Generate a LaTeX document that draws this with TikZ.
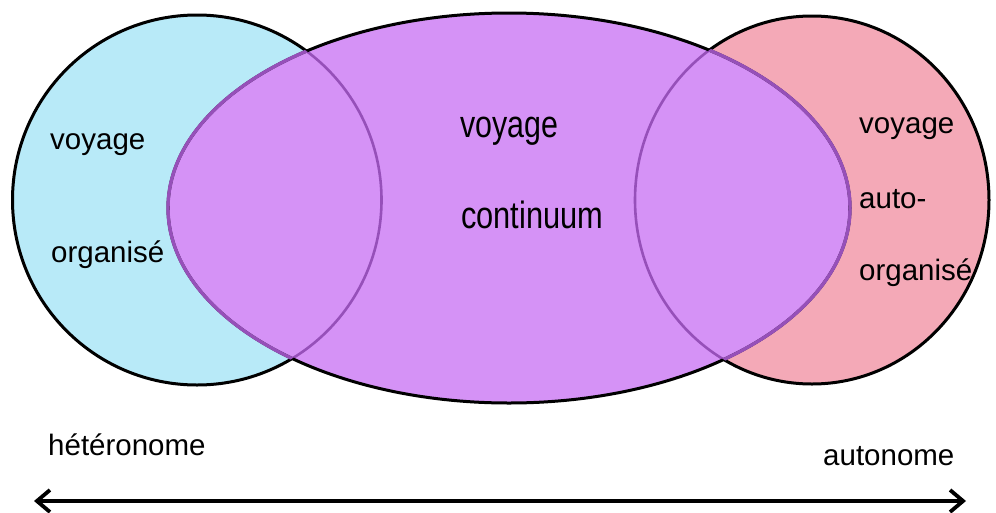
\documentclass[tikz,border=0pt]{standalone}
\usepackage{fontspec}
\setmainfont{Liberation Sans}
\usetikzlibrary{arrows.meta}
\definecolor{cblue}{RGB}{184,234,248}
\definecolor{cpink}{RGB}{244,169,183}
\definecolor{cpurple}{RGB}{213,146,246}
\definecolor{cline}{RGB}{150,80,185}
\tikzset{
  lbl/.style={anchor=base west, inner sep=0pt, font=\fontsize{29.5}{35}\selectfont},
  clbl/.style={anchor=base west, inner sep=0pt, font=\fontsize{38}{44}\selectfont},
  outline/.style={line width=3pt, draw=black},
  inline/.style={line width=3.4pt, draw=cline},
  barb/.tip={Straight Barb[length=13pt,width=22pt]},
}
\begin{document}
\begin{tikzpicture}[x=1pt,y=-1pt]
\useasboundingbox (0,0) rectangle (996,512);
% shapes
\def\bluecirc{(197,200) ellipse [x radius=184.5, y radius=185]}
\def\pinkcirc{(812,200) ellipse [x radius=177, y radius=184]}
\def\purpell{(509,208) ellipse [x radius=341, y radius=195]}
\fill[cblue] \bluecirc;
\fill[cpink] \pinkcirc;
\draw[outline] \bluecirc;
\draw[outline] \pinkcirc;
\fill[cpurple] \purpell;
\begin{scope}
  \clip \purpell;
  \draw[inline, line width=2.6pt] \bluecirc;
  \draw[inline, line width=2.6pt] \pinkcirc;
\end{scope}
\draw[outline] \purpell;
\begin{scope}
  \clip \bluecirc;
  \draw[inline] \purpell;
\end{scope}
\begin{scope}
  \clip \pinkcirc;
  \draw[inline] \purpell;
\end{scope}
% texts
\node[lbl] (lv) at (50,149) {voyage};
\node[lbl] (lo) at (51,262) {organisé};
\node[clbl] (cv) at (460,137) {\scalebox{0.8}[1]{voyage}};
\node[clbl] (cc) at (461,228) {\scalebox{0.81}[1]{continuum}};
\node[lbl] (rv) at (859,133) {voyage};
\node[lbl] (ra) at (859,208) {auto-};
\node[lbl] (ro) at (859,280) {organisé};
\node[lbl] (het) at (48,455) {hétéronome};
\node[lbl] (aut) at (823,465) {autonome};
% axis arrow
\coordinate (al) at (34,501);
\coordinate (ar) at (966,501);
\draw[line width=3.8pt, barb-barb] (al) -- (ar);
\end{tikzpicture}
\end{document}
